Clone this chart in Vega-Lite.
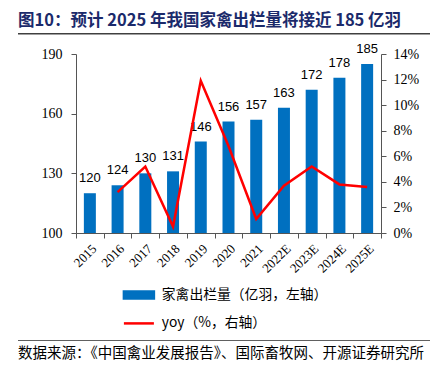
{
  "$schema": "https://vega.github.io/schema/vega-lite/v6.json",
  "padding": {"top": 13, "left": 18, "right": 0, "bottom": 0},
  "background": "white",
  "title": {"text": "图10：预计 2025 年我国家禽出栏量将接近 185 亿羽", "anchor": "start", "font": "Noto Sans CJK SC", "fontSize": 16.5, "fontWeight": "bold", "color": "#1B2A6B", "offset": 3.5},
  "spacing": 7,
  "config": {"view": {"stroke": null}, "legend": {"layout": {"bottom": {"anchor": "middle"}}}},
  "resolve": {"scale": {"color": "independent"}, "legend": {"color": "independent"}},
  "vconcat": [
    {
      "width": 412, "height": 1.5,
      "view": {"fill": "#404040", "stroke": null},
      "data": {"values": []},
      "mark": {"type": "point", "opacity": 0},
      "encoding": {}
    },
    {
      "width": 423, "height": 179,
      "data": {"values": [
        {"year": "2015", "out": 120, "yoy": null},
        {"year": "2016", "out": 124, "yoy": 0.032},
        {"year": "2017", "out": 130, "yoy": 0.052},
        {"year": "2018", "out": 131, "yoy": 0.005},
        {"year": "2019", "out": 146, "yoy": 0.119},
        {"year": "2020", "out": 156, "yoy": 0.068},
        {"year": "2021", "out": 157, "yoy": 0.011},
        {"year": "2022E", "out": 163, "yoy": 0.037},
        {"year": "2023E", "out": 172, "yoy": 0.052},
        {"year": "2024E", "out": 178, "yoy": 0.038},
        {"year": "2025E", "out": 185, "yoy": 0.036}
      ]},
      "encoding": {
        "x": {"field": "year", "type": "ordinal", "sort": null,
          "scale": {"range": [58, 363], "paddingInner": 0, "paddingOuter": 0},
          "axis": {"title": null, "labelAngle": -45, "labelFont": "Liberation Serif", "labelFontSize": 13, "labelColor": "#000", "domain": true, "domainColor": "#555", "tickColor": "#555", "tickBand": "extent", "tickSize": 5, "labelPadding": 4}}
      },
      "layer": [
        {
          "encoding": {
            "y": {"field": "out", "type": "quantitative",
              "scale": {"domain": [100, 190], "zero": false, "nice": false},
              "axis": {"title": null, "orient": "left", "offset": -58, "values": [100, 130, 160, 190], "labelFont": "Liberation Serif", "labelFontSize": 14, "labelColor": "#000", "domainColor": "#555", "tickColor": "#555", "tickSize": 5, "grid": false, "labelPadding": 9}}
          },
          "layer": [
            {
              "mark": {"type": "bar", "size": 12},
              "encoding": {
                "y2": {"datum": 100},
                "color": {"datum": "家禽出栏量（亿羽，左轴）", "type": "nominal",
                  "scale": {"domain": ["家禽出栏量（亿羽，左轴）", "yoy（%，右轴）"], "range": ["#0070C0", "#FF0000"]},
                  "legend": {"title": null, "orient": "bottom", "direction": "vertical", "offset": 10, "padding": 2, "symbolType": "M-3,-0.7H3V0.7H-3Z", "symbolSize": 100, "rowPadding": 11.5, "labelFont": "Noto Sans CJK SC", "labelFontSize": 13.8, "labelColor": "#000", "labelOffset": 16, "labelLimit": 400,
                    "encode": {"symbols": {"update": {
                      "shape": {"signal": "datum.value === 'yoy（%，右轴）' ? 'M-3,0H3' : 'M-3,-0.7H3V0.7H-3Z'"},
                      "fill": {"signal": "datum.value === 'yoy（%，右轴）' ? 'transparent' : '#0070C0'"},
                      "stroke": {"signal": "datum.value === 'yoy（%，右轴）' ? '#FF0000' : 'transparent'"},
                      "strokeWidth": {"value": 2.5},
                      "opacity": {"value": 1}
                    }}}}}
              }
            },
            {
              "mark": {"type": "text", "dy": -15, "font": "Liberation Sans", "fontSize": 13, "color": "#000"},
              "encoding": {"text": {"field": "out", "type": "quantitative"}}
            }
          ]
        },
        {
          "mark": {"type": "line", "strokeWidth": 2.5},
          "encoding": {
            "y": {"field": "yoy", "type": "quantitative",
              "scale": {"domain": [0, 0.14], "nice": false},
              "axis": {"title": null, "orient": "right", "offset": -60, "format": ".0%", "values": [0, 0.02, 0.04, 0.06, 0.08, 0.1, 0.12, 0.14], "labelFont": "Liberation Serif", "labelFontSize": 14, "labelColor": "#000", "domainColor": "#555", "tickColor": "#555", "tickSize": 5, "grid": false, "labelPadding": 7}},
            "color": {"datum": "yoy（%，右轴）", "type": "nominal"}
          }
        }
      ],
      "resolve": {"scale": {"y": "independent"}}
    },
    {
      "width": 412, "height": 1,
      "view": {"fill": "#606060", "stroke": null},
      "data": {"values": []},
      "mark": {"type": "point", "opacity": 0},
      "encoding": {},
      "title": {"text": "数据来源：《中国禽业发展报告》、国际畜牧网、开源证券研究所", "orient": "bottom", "anchor": "start", "font": "Noto Sans CJK SC", "fontSize": 14.5, "fontWeight": "normal", "color": "#000", "offset": 6}
    }
  ]
}
